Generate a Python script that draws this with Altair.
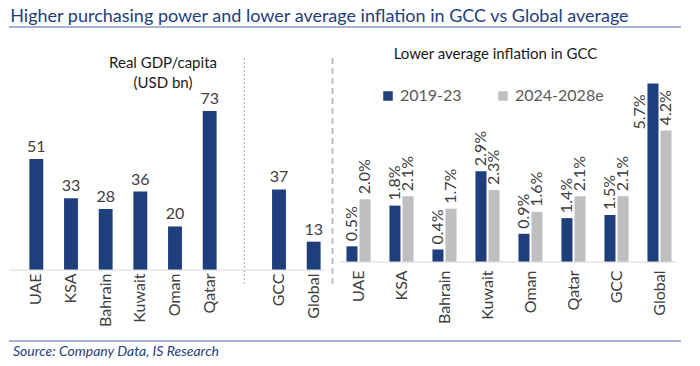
import altair as alt
import pandas as pd

# ---------------- data ----------------
gdp_countries = ["UAE", "KSA", "Bahrain", "Kuwait", "Oman", "Qatar", "GCC", "Global"]
gdp_values = [51, 33, 28, 36, 20, 73, 37, 13]

infl_regions = ["UAE", "KSA", "Bahrain", "Kuwait", "Oman", "Qatar", "GCC", "Global"]
infl_2019_23 = [0.5, 1.8, 0.4, 2.9, 0.9, 1.4, 1.5, 5.7]
infl_2024_28 = [2.0, 2.1, 1.7, 2.3, 1.6, 2.1, 2.1, 4.2]
series_names = ["2019-23", "2024-2028e"]

title_text = "Higher purchasing power and lower average inflation in GCC vs Global average"
gdp_title = "Real GDP/capita\n(USD bn)"
infl_title = "Lower average inflation in GCC"
source_text = "Source: Company Data, IS Research"
gap = " "

# ---------------- styles ----------------
FONT = "Lato"
BLUE = "#1F3E7C"
GREY = "#BFBFBF"
TXT = "#404040"
LINE = "#8E9CC8"

gdp_df = pd.DataFrame({"Country": gdp_countries, "Value": gdp_values})
infl_df = pd.DataFrame({
    "Region": infl_regions * 2,
    "Series": [series_names[0]] * len(infl_regions) + [series_names[1]] * len(infl_regions),
    "Value": infl_2019_23 + infl_2024_28,
})
one = pd.DataFrame({"k": [0]})

# ---------------- left panel ----------------
gdp_domain = gdp_countries[:6] + [gap] + gdp_countries[6:]
LW, LH = 312, 196
SPACING = 6

xg = alt.X("Country:N", sort=gdp_domain,
           scale=alt.Scale(domain=gdp_domain, paddingInner=0.6, paddingOuter=0.3),
           axis=alt.Axis(title=None, labelAngle=270, labelPadding=3, labelFontSize=16,
                         labelColor=TXT, labelFont=FONT, domain=False, ticks=False))
yg = alt.Y("Value:Q", scale=alt.Scale(domain=[0, 83]), axis=None)

gbase = alt.Chart(gdp_df).encode(x=xg, y=yg)
gbars = gbase.mark_bar(color=BLUE)
glabels = gbase.mark_text(baseline="bottom", dy=-4, fontSize=16, color=TXT, font=FONT).encode(
    text="Value:Q")

gdivider = alt.Chart(pd.DataFrame({"Country": [gap]})).mark_rule(
    color="#A6A6A6", strokeDash=[2, 2], strokeWidth=1).encode(
    x=alt.X("Country:N"), y=alt.value(-16), y2=alt.value(212))
gbase_line = alt.Chart(one).mark_rule(color="#D9D9D9", strokeWidth=1).encode(
    y=alt.datum(0), x=alt.value(-9), x2=alt.value(306))
top_line = alt.Chart(one).mark_rule(color=LINE, strokeWidth=1.5).encode(
    x=alt.value(-10), x2=alt.value(662), y=alt.value(-47))
bottom_line = alt.Chart(one).mark_rule(color=LINE, strokeWidth=1.5).encode(
    x=alt.value(-10), x2=alt.value(662), y=alt.value(267))
source = alt.Chart(one).mark_text(
    align="left", baseline="top", fontSize=14, font=FONT, fontStyle="italic", color=BLUE,
    text=source_text).encode(x=alt.value(-6), y=alt.value(271))
gtitle = alt.Chart(one).mark_text(
    align="center", baseline="middle", fontSize=15, font=FONT, color="#1A1A1A",
    lineBreak="\n", lineHeight=20, text=gdp_title).encode(x=alt.value(144), y=alt.value(-11))

left = alt.layer(gbars, glabels, gdivider, gbase_line, top_line, bottom_line, source,
                 gtitle).properties(width=LW, height=LH)

# ---------------- right panel ----------------
RW, RH = 344, 188
xi = alt.X("Region:N", sort=infl_regions,
           scale=alt.Scale(paddingInner=0.44, paddingOuter=0.22),
           axis=alt.Axis(title=None, labelAngle=270, labelPadding=8, labelFontSize=16,
                         labelColor=TXT, labelFont=FONT, domain=False, ticks=False))
xo = alt.XOffset("Series:N", sort=series_names, scale=alt.Scale(paddingInner=0.154))
yi = alt.Y("Value:Q", scale=alt.Scale(domain=[0, 6]), axis=None)

ibase = alt.Chart(infl_df).encode(x=xi, xOffset=xo, y=yi)
ibars = ibase.mark_bar().encode(
    color=alt.Color("Series:N", sort=series_names,
                    scale=alt.Scale(domain=series_names, range=[BLUE, GREY]),
                    legend=alt.Legend(orient="none", legendX=LW + SPACING + 43, legendY=14,
                                      direction="horizontal",
                                      title=None, symbolType="square", symbolSize=90,
                                      labelFontSize=16, labelColor="#595959", labelFont=FONT,
                                      columnPadding=33, symbolStrokeWidth=0)))
ilabels = ibase.transform_filter("datum.Value <= 5").transform_calculate(
    label="format(datum.Value, '.1f') + '%'").mark_text(
    angle=270, align="left", baseline="middle", dx=5, fontSize=16, color=TXT, font=FONT).encode(
    text="label:N")
ilabels_top = ibase.transform_filter("datum.Value > 5").transform_calculate(
    label="format(datum.Value, '.1f') + '%'").mark_text(
    angle=270, align="right", baseline="middle", dx=-11, dy=-13, fontSize=16, color=TXT,
    font=FONT).encode(text="label:N")

idivider = alt.Chart(one).mark_rule(color="#BFBFBF", strokeDash=[6, 4], strokeWidth=2).encode(
    x=alt.value(-4.5), y=alt.value(-16), y2=alt.value(210))
ibase_line = alt.Chart(one).mark_rule(color="#D9D9D9", strokeWidth=1).encode(
    y=alt.datum(0), x=alt.value(2), x2=alt.value(340))
ititle = alt.Chart(one).mark_text(
    align="center", baseline="middle", fontSize=15, font=FONT, color="#1A1A1A",
    text=infl_title).encode(x=alt.value(158.5), y=alt.value(-20))

right = alt.layer(ibars, ilabels, ilabels_top, idivider, ibase_line, ititle).properties(
    width=RW, height=RH)

chart = alt.hconcat(left, right, spacing=SPACING, bounds="flush").properties(
    padding=0,
    title=alt.TitleParams(title_text, anchor="start", fontSize=18, font=FONT, color=BLUE,
                          fontWeight="normal", dx=2, offset=0),
).configure_view(stroke=None)

chart.save("out.html", embed_options={"renderer": "svg", "actions": False})
